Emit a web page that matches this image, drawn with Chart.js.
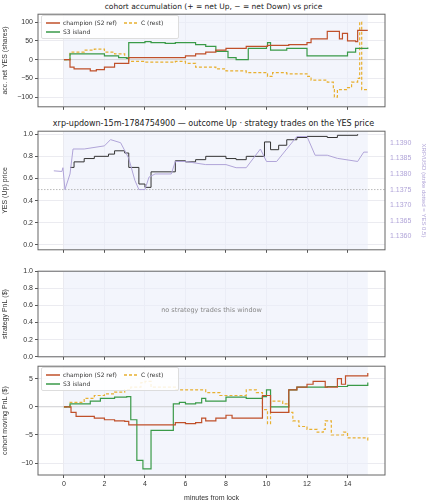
<!DOCTYPE html>
<html>
<head>
<meta charset="utf-8">
<script src="https://cdn.jsdelivr.net/npm/chart.js@4"></script>
<style>
  body { margin: 0; background: #fff; font-family: "DejaVu Sans", sans-serif; }
  #wrap { position: relative; width: 427px; height: 500px; }
  canvas { position: absolute; left: 0; }
  .title { position: absolute; left: 0; width: 427px; text-align: center; font-size: 7.5px; color: #222; white-space: nowrap; }
  .legend { position: absolute; font-size: 6px; color: #333; background: rgba(255,255,255,0.85); border: 1px solid #ddd; border-radius: 2px; padding: 2px 4px; line-height: 9px; white-space: nowrap; }
  .legend span { display: inline-block; width: 78px; white-space: nowrap; }
  .legend svg { vertical-align: middle; margin-right: 3px; }
  .note { position: absolute; left: 38px; width: 347px; text-align: center; font-size: 6.5px; color: #888; }
</style>
</head>
<body>
<div id="wrap">
  <div class="title" style="top:2px">cohort accumulation (+ = net Up, − = net Down) vs price</div>
  <canvas id="c1"></canvas>
  <div class="title" style="top:119px;font-size:8px">xrp-updown-15m-1784754900 — outcome Up · strategy trades on the YES price</div>
  <canvas id="c2"></canvas>
  <canvas id="c3"></canvas>
  <div class="note" style="top:306px">no strategy trades this window</div>
  <canvas id="c4"></canvas>
  <div class="legend" style="left:41px;top:15px" id="lg1"></div>
  <div class="legend" style="left:41px;top:367px" id="lg4"></div>
</div>
<script>
// minutes from lock
// panel 1: accumulated net YES shares
const accChampion = [[0,0],[0.3,-20],[0.5,-25],[1.3,-30],[1.6,-27],[2,-20],[2.5,-10],[3.2,5],[5.5,5],[6,10],[6.5,15],[7,20],[7.5,25],[8,30],[9,35],[10,35],[10.05,38],[11.1,40],[12,45],[12.2,55],[13,75],[13.6,55],[13.75,70],[14,50],[14.4,48],[14.5,78],[15,78]];
const accS3 = [[0,0],[0.3,15],[1.5,15],[2,10],[2.7,5],[3.1,3],[3.2,45],[4,48],[4.3,45],[5,43],[5.5,45],[6.5,40],[7,35],[7.5,22],[8,22],[8.1,5],[8.5,0],[9,0],[9.1,30],[10,35],[10.05,45],[10.2,25],[11,30],[11.6,30],[12,10],[13.5,10],[14,20],[14.4,30],[15,32]];
const accC = [[0,0],[0.3,20],[1,25],[1.5,28],[2,20],[2.5,15],[3,5],[3.2,-5],[4,-7],[5.5,-5],[6,-10],[6.5,-20],[7.5,-25],[8,-30],[9,-35],[10,-38],[10.05,-45],[10.3,-35],[11,-38],[12,-45],[12.2,-55],[13,-60],[13.3,-80],[13.35,-100],[13.5,-80],[14,-75],[14.2,-60],[14.5,-50],[14.6,100],[14.7,-80],[15,-80]];
// panel 2: YES price and XRP/USD
const yesPrice = [[0.3,0.70],[0.5,0.75],[1,0.78],[1.5,0.80],[2.2,0.82],[2.5,0.85],[3,0.83],[3.2,0.70],[3.7,0.55],[4,0.52],[4.3,0.66],[5.5,0.76],[6,0.75],[6.5,0.77],[7,0.80],[8,0.78],[8.5,0.77],[9,0.80],[9.9,0.93],[10.2,0.86],[10.6,0.90],[11,0.95],[11.5,0.97],[12,0.98],[13,0.97],[13.5,0.99],[14.5,1.0]];
const xrpUsd = [[-0.5,1.1381],[-0.1,1.13808],[-0.05,1.1382],[0.05,1.1375],[0.3,1.1380],[0.45,1.1388],[1,1.1388],[2,1.1389],[2.3,1.1391],[2.8,1.1390],[3.2,1.1385],[3.5,1.1378],[3.7,1.1375],[4,1.1375],[4.2,1.1379],[4.5,1.1380],[5.3,1.1380],[5.5,1.1384],[6,1.1384],[7,1.1383],[8,1.1383],[8.5,1.1382],[9,1.1382],[9.7,1.1388],[10,1.1384],[10.5,1.1384],[11.5,1.1392],[12,1.1392],[12.4,1.1386],[13,1.1386],[13.5,1.1385],[14.5,1.1384],[14.8,1.1387],[15,1.1387]];
// panel 4: cohort moving PnL ($)
const pnlChampion = [[0,0],[0.3,0],[0.35,-1],[0.6,-1.7],[1.5,-2],[2,-2.3],[2.5,-2.5],[3,-2.6],[3.2,-3.2],[5.5,-2.8],[6,-3],[6.5,-2.8],[6.8,-2],[7,-2.5],[7.5,-2],[8,-1.5],[8.3,-2],[9.8,2],[10.2,-1],[11.1,3],[11.5,3.5],[12,4],[12.3,4.5],[12.9,3.5],[13.5,5],[13.7,4],[13.9,5.5],[15,6]];
const pnlS3 = [[0,0],[0.3,0.5],[0.9,0.5],[1.3,1],[1.8,1.5],[2.5,1.7],[3.1,1.8],[3.3,-2.3],[3.6,-9.5],[3.9,-11],[4.3,-4.2],[5.4,0.5],[5.7,0.8],[6,0.5],[6.5,0.7],[6.8,1.5],[7,1],[8,1.7],[9,1.5],[9.8,1.8],[10,3],[10.2,0],[11.1,3],[11.5,3.5],[13,3.6],[14,3.8],[15,4.3]];
const pnlC = [[0,0],[0.3,0.8],[1,1.5],[1.5,2],[2,2.3],[2.5,2.6],[3,3],[3.3,3.5],[3.8,4.3],[4,4.5],[4.3,3.5],[5.5,3],[6,3],[7,2.5],[7.7,2],[8.5,2],[9,3],[9.5,2.5],[9.8,-0.5],[10.05,-3],[10.2,1],[10.8,0.5],[11.1,-1],[11.3,-2.5],[11.6,-3.5],[12,-4],[12.5,-4.5],[12.8,-4],[12.9,-2.5],[13.2,-5],[13.8,-4.5],[14,-5.5],[15,-6]];
const xTicks = [0, 2, 4, 6, 8, 10, 12, 14];
const accTicks = [-100, -50, 0, 50, 100];
const unitTicks = [0, 0.2, 0.4, 0.6, 0.8, 1.0];
const pnlTicks = [-10, -5, 0, 5];
const xrpTicks = [1.136, 1.1365, 1.137, 1.1375, 1.138, 1.1385, 1.139];

const RUST = '#c0502a', GREEN = '#3a9a48', GOLD = '#e8b030', PURPLE = '#b0a4d8', INK = '#333';
const pts = a => a.map(p => ({ x: p[0], y: p[1] }));

const frame = {
  id: 'frame',
  beforeDatasetsDraw(ch, args, o) {
    const { ctx, chartArea: a, scales: { x } } = ch;
    ctx.save();
    ctx.fillStyle = 'rgba(235,239,250,0.6)';
    ctx.fillRect(x.getPixelForValue(0), a.top, x.getPixelForValue(15) - x.getPixelForValue(0), a.bottom - a.top);
    const y = ch.scales.y;
    if (o.zero !== undefined) {
      ctx.strokeStyle = o.dotted ? '#aaa' : '#ccc';
      ctx.setLineDash(o.dotted ? [1.5, 1.5] : []);
      ctx.lineWidth = 0.8;
      const py = y.getPixelForValue(o.zero);
      ctx.beginPath(); ctx.moveTo(a.left, py); ctx.lineTo(a.right, py); ctx.stroke();
    }
    ctx.restore();
  },
  afterDraw(ch) {
    const { ctx, chartArea: a } = ch;
    ctx.save();
    ctx.strokeStyle = '#666'; ctx.lineWidth = 1;
    ctx.strokeRect(a.left, a.top, a.right - a.left, a.bottom - a.top);
    ctx.restore();
  }
};

function line(data, color, dashed, width, stepped) {
  return { data: pts(data), borderColor: color, borderWidth: width || 1.2, borderDash: dashed ? [3, 2] : [],
    pointRadius: 0, stepped: stepped === false ? false : true, fill: false };
}

function xScale(showLabels, title) {
  return {
    type: 'linear', min: -1.28, max: 15.85,
    afterBuildTicks: s => { s.ticks = xTicks.map(v => ({ value: v })); },
    afterFit: s => { s.height = showLabels ? 28 : 5; },
    grid: { color: '#ebebf0', tickLength: 3, tickColor: '#555' },
    border: { display: false },
    ticks: { display: showLabels, color: '#333', font: { size: 7 }, padding: 2 },
    title: { display: !!title, text: title, color: '#333', font: { size: 7 }, padding: 1 }
  };
}

function yScale(min, max, title, tickList, fmt) {
  return {
    min, max,
    afterFit: s => { s.width = 38; },
    afterBuildTicks: s => { s.ticks = tickList.map(v => ({ value: v })); },
    grid: { color: '#ebebf0', tickLength: 3, tickColor: '#555' },
    border: { display: false },
    ticks: { color: '#333', font: { size: 7 }, padding: 2,
      callback: fmt || (v => String(v).replace('-', '−')) },
    title: { display: true, text: title, color: '#333', font: { size: 7 }, padding: 1 }
  };
}

const base = (extra) => Object.assign({
  responsive: false, maintainAspectRatio: false, animation: false,
  layout: { padding: { top: 5, right: 42, left: 0, bottom: 0 } },
  plugins: { legend: { display: false }, tooltip: { enabled: false } }
}, extra);

function mkCanvas(id, top, h, bottomH) {
  const c = document.getElementById(id);
  c.style.top = (top - 5) + 'px';
  c.style.width = '427px';
  c.style.height = (h + 5 + bottomH) + 'px';
  c.width = 427; c.height = h + 5 + bottomH;
  return c;
}

// panel 1
new Chart(mkCanvas('c1', 13, 95, 5), {
  type: 'line',
  data: { datasets: [line(accChampion, RUST), line(accS3, GREEN), line(accC, GOLD, true)] },
  options: base({
    scales: { x: xScale(false), y: yScale(-126, 121, 'acc. net YES (shares)', accTicks) },
    plugins: { legend: { display: false }, tooltip: { enabled: false }, frame: { zero: 0 } }
  }),
  plugins: [frame]
});

// panel 2
const o2 = base({
  scales: {
    x: xScale(false),
    y: yScale(-0.044, 1.027, 'YES (Up) price', unitTicks, v => v.toFixed(1)),
    y2: { position: 'right', min: 1.13557, max: 1.13937,
      afterFit: s => { s.width = 42; },
      grid: { display: false, tickLength: 3, tickColor: PURPLE }, border: { display: false },
      ticks: { color: PURPLE, font: { size: 7 }, padding: 2, callback: v => v.toFixed(4) },
      afterBuildTicks: s => { s.ticks = xrpTicks.map(v => ({ value: v })); },
      title: { display: true, text: 'XRP/USD (strike dotted = YES 0.5)', color: PURPLE, font: { size: 6 }, padding: 0 } }
  },
  plugins: { legend: { display: false }, tooltip: { enabled: false }, frame: { zero: 0.5, dotted: true } }
});
o2.layout.padding.right = 0;
const xrpDs = line(xrpUsd, PURPLE, false, 1, false);
xrpDs.yAxisID = 'y2';
new Chart(mkCanvas('c2', 130, 121, 5), {
  type: 'line',
  data: { datasets: [xrpDs, line(yesPrice, INK, false, 1)] },
  options: o2,
  plugins: [frame]
});

// panel 3 (empty)
new Chart(mkCanvas('c3', 270, 88, 5), {
  type: 'line',
  data: { datasets: [] },
  options: base({
    scales: { x: xScale(false), y: yScale(0, 1, 'strategy PnL ($)', unitTicks, v => v.toFixed(1)) },
    plugins: { legend: { display: false }, tooltip: { enabled: false }, frame: {} }
  }),
  plugins: [frame]
});

// panel 4
new Chart(mkCanvas('c4', 365, 110, 28), {
  type: 'line',
  data: { datasets: [line(pnlChampion, RUST), line(pnlS3, GREEN), line(pnlC, GOLD, true)] },
  options: base({
    scales: { x: xScale(true, 'minutes from lock'), y: yScale(-12.1, 7.2, 'cohort moving PnL ($)', pnlTicks) },
    plugins: { legend: { display: false }, tooltip: { enabled: false }, frame: { zero: 0 } }
  }),
  plugins: [frame]
});

// legends
function sample(color, dashed) {
  return `<svg width="14" height="4"><line x1="0" y1="2" x2="14" y2="2" stroke="${color}" stroke-width="1.5" ${dashed ? 'stroke-dasharray="3,2"' : ''}/></svg>`;
}
const legendHtml = `<span>${sample(RUST)}champion (S2 ref)</span><span style="width:50px">${sample(GOLD, true)}C (rest)</span><br><span>${sample(GREEN)}S3 island</span>`;
document.getElementById('lg1').innerHTML = legendHtml;
document.getElementById('lg4').innerHTML = legendHtml;
</script>
</body>
</html>
